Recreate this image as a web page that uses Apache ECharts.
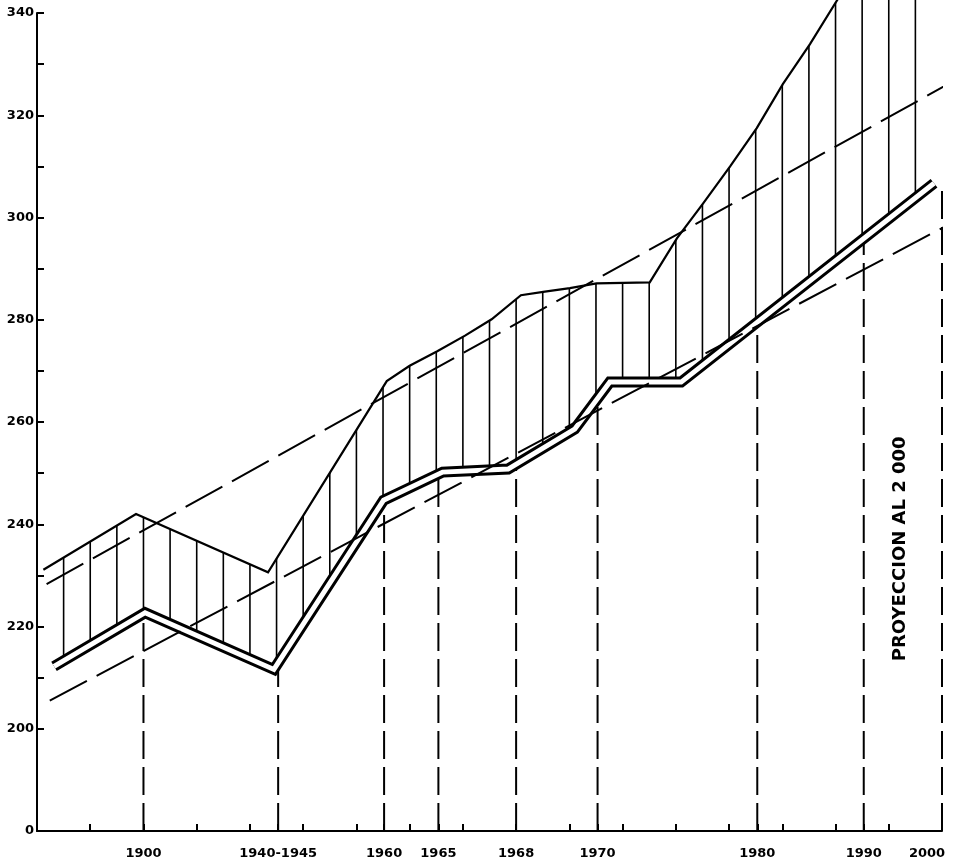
<!DOCTYPE html>
<html><head><meta charset="utf-8">
<script src="https://cdn.jsdelivr.net/npm/echarts@6/dist/echarts.min.js"></script>
<style>html,body{margin:0;padding:0;background:#fff}#c{width:961px;height:861px}</style>
</head><body><div id="c"></div>
<script>
// x is measured in units of the regular tick spacing on the horizontal axis
const xLabelPos = [2, 4.53, 6.52, 7.54, 9, 10.53, 13.53, 15.53, 17];
const xLabelText = ['1900', '1940-1945', '1960', '1965', '1968', '1970', '1980', '1990', '2000'];
const xRegularTicks = [1, 2, 3, 4, 5, 6, 7, 8, 9, 10, 11, 12, 13, 14, 15, 16, 17];

// broken y axis: the bottom value 180 stands for "0"
const yTickValues = [180, 200, 210, 220, 230, 240, 250, 260, 270, 280, 290, 300, 310, 320, 330, 340];
const yLabelValues = [180, 200, 220, 240, 260, 280, 300, 320, 340];
const yLabelText = ['0', '200', '220', '240', '260', '280', '300', '320', '340'];

// upper (thin) boundary of the hatched band
const upperX = [0.12, 1.86, 4.34, 6.57, 7.0, 7.51, 8.04, 8.54, 9.09, 9.54, 10.01, 10.51, 11.51, 12.02, 12.51, 13.02, 13.52, 14.01, 14.52, 15.03, 15.51, 16.02, 16.51];
const upperY = [231.1, 242.0, 230.6, 268.0, 271.0, 273.8, 276.9, 280.1, 284.8, 285.5, 286.2, 287.1, 287.3, 295.9, 302.7, 310.0, 317.5, 326.1, 333.9, 342.5, 350.4, 358.2, 366.0];

// lower double line
const lowerX = [0.32, 2.03, 4.45, 6.51, 7.62, 8.85, 10.1, 10.76, 12.1, 16.85];
const lowerY = [212.2, 222.7, 211.6, 244.7, 250.2, 250.8, 258.6, 267.8, 267.8, 306.7];

// dashed trend lines
const trendAX = [0.18, 17.36];
const trendAY = [228.3, 327.5];
const trendBX = [0.24, 17.05];
const trendBY = [205.5, 298.2];

// vertical dashed drop lines (x, top value)
const dropX = [2, 4.53, 6.52, 7.54, 9, 10.53, 13.53, 15.53, 17];
const dropTop = [222.5, 212.5, 244.7, 249.8, 251.8, 264.5, 279.5, 295.9, 306.5];

// hatch positions (every half tick)
const hatchX = [0.5, 1, 1.5, 2, 2.5, 3, 3.5, 4, 4.5, 5, 5.5, 6, 6.5, 7, 7.5, 8, 8.5, 9, 9.5, 10, 10.5, 11, 11.5, 12, 12.5, 13, 13.5, 14, 14.5, 15, 15.5, 16, 16.5];

const noteText = 'PROYECCION AL 2 000';
const notePos = [16.22, 235.2];

function interp(xs, ys, x) {
  if (x <= xs[0]) return ys[0];
  for (let i = 0; i < xs.length - 1; i++) {
    if (x <= xs[i + 1]) return ys[i] + (ys[i + 1] - ys[i]) * (x - xs[i]) / (xs[i + 1] - xs[i]);
  }
  return ys[ys.length - 1];
}
const zip = (xs, ys) => xs.map((x, i) => [x, ys[i]]);

const FONT = 'DejaVu Sans';
const chart = echarts.init(document.getElementById('c'), null, {renderer: 'canvas'});
chart.setOption({
  animation: false,
  backgroundColor: '#ffffff',
  grid: {left: 37, right: 19, top: 13, bottom: 30, containLabel: false, outerBoundsMode: 'none'},
  xAxis: {
    type: 'value', min: 0, max: 17,
    axisLine: {show: true, onZero: false, lineStyle: {color: '#000', width: 2}},
    axisTick: {show: true, inside: true, length: 7, customValues: xRegularTicks.concat(xLabelPos),
      lineStyle: {color: '#000', width: 2}},
    axisLabel: {
      show: true, customValues: xLabelPos, margin: 16,
      color: '#000', fontFamily: FONT, fontWeight: 'bold', fontSize: 13,
      formatter: function (v) {
        for (let i = 0; i < xLabelPos.length; i++) {
          if (Math.abs(xLabelPos[i] - v) < 1e-6) {
            return i === xLabelPos.length - 1 ? '{r|' + xLabelText[i] + '}' : xLabelText[i];
          }
        }
        return '';
      },
      rich: {r: {color: '#000', fontFamily: FONT, fontWeight: 'bold', fontSize: 13, padding: [0, 30, 0, 0]}}
    },
    splitLine: {show: false}
  },
  yAxis: {
    type: 'value', min: 180, max: 340,
    axisLine: {show: true, onZero: false, lineStyle: {color: '#000', width: 2}},
    axisTick: {show: true, inside: true, length: 7, customValues: yTickValues,
      lineStyle: {color: '#000', width: 2}},
    axisLabel: {
      show: true, customValues: yLabelValues, margin: 3,
      color: '#000', fontFamily: FONT, fontWeight: 'bold', fontSize: 13,
      formatter: function (v) {
        const i = yLabelValues.indexOf(v);
        return i >= 0 ? yLabelText[i] : '';
      }
    },
    splitLine: {show: false}
  },
  series: [
    {
      name: 'hatch', type: 'custom', z: 1, silent: true,
      encode: {x: 0, y: 1},
      data: hatchX.map(x => [x, 180]),
      renderItem: function (params, api) {
        const x = api.value(0);
        const p1 = api.coord([x, interp(upperX, upperY, x)]);
        const p2 = api.coord([x, interp(lowerX, lowerY, x)]);
        return {type: 'line', shape: {x1: p1[0], y1: p1[1], x2: p2[0], y2: p2[1]},
          style: {stroke: '#000', lineWidth: 1.6}};
      }
    },
    {
      name: 'drops', type: 'custom', z: 1, silent: true,
      encode: {x: 0, y: 1},
      data: zip(dropX, dropTop),
      renderItem: function (params, api) {
        const p1 = api.coord([api.value(0), 180]);
        const p2 = api.coord([api.value(0), api.value(1)]);
        return {type: 'line', shape: {x1: p1[0], y1: p1[1], x2: p2[0], y2: p2[1]},
          style: {stroke: '#000', lineWidth: 2, lineDash: [28, 8]}};
      }
    },
    {
      name: 'lowerOuter', type: 'line', z: 2, clip: false, symbol: 'none', silent: true,
      data: zip(lowerX, lowerY),
      lineStyle: {color: '#000', width: 11, join: 'miter', miterLimit: 10, cap: 'butt'}
    },
    {
      name: 'lowerInner', type: 'line', z: 3, clip: false, symbol: 'none', silent: true,
      data: zip(lowerX, lowerY),
      lineStyle: {color: '#fff', width: 5, join: 'miter', miterLimit: 10, cap: 'butt'}
    },
    {
      name: 'upper', type: 'line', z: 4, clip: false, symbol: 'none', silent: true,
      data: zip(upperX, upperY),
      lineStyle: {color: '#000', width: 2.2, join: 'miter'}
    },
    {
      name: 'trendA', type: 'line', z: 4, clip: false, symbol: 'none', silent: true,
      data: zip(trendAX, trendAY),
      lineStyle: {color: '#000', width: 2, type: [42, 11]}
    },
    {
      name: 'trendB', type: 'line', z: 4, clip: false, symbol: 'none', silent: true,
      data: zip(trendBX, trendBY),
      lineStyle: {color: '#000', width: 2, type: [42, 11]}
    },
    {
      name: 'note', type: 'custom', z: 5, silent: true,
      encode: {x: 0, y: 1},
      data: [notePos],
      renderItem: function (params, api) {
        const p = api.coord([api.value(0), api.value(1)]);
        return {type: 'text', x: p[0], y: p[1], rotation: Math.PI / 2,
          style: {text: noteText, fill: '#000', font: 'bold 18px "DejaVu Sans"', align: 'center', verticalAlign: 'middle'}};
      }
    }
  ]
});
</script>
</body></html>
